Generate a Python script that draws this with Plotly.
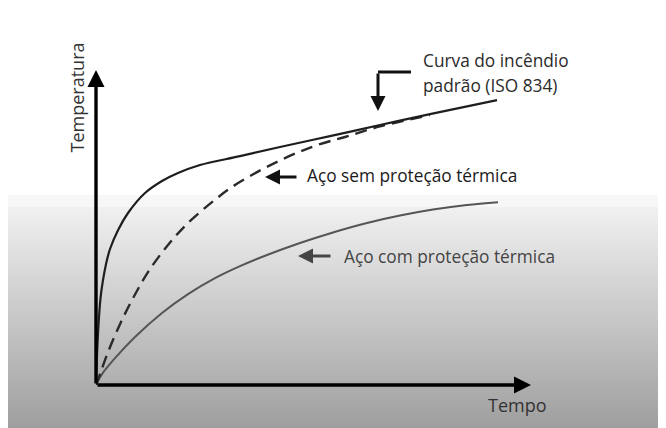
import plotly.graph_objects as go

# schematic values: time (arbitrary units) vs temperature (approx. °C)
tempo_iso = [0, 0.25, 0.625, 1.125, 1.75, 2.5, 3.5, 5.5, 8, 12.25, 16.5, 20.5, 26, 36, 46, 58.5, 71, 83.5, 100.25]
temp_iso = [0, 105, 210, 304, 367, 423, 476, 542, 602, 672, 714, 742, 770, 801, 833, 871, 910, 948, 997]

tempo_sem = [0, 1, 3, 6, 9, 13, 18, 23, 29, 34, 40.25, 46, 51, 56, 62.25, 71, 83.5]
temp_sem = [0, 38, 115, 213, 297, 395, 490, 567, 640, 693, 745, 786, 817, 843, 868, 905, 945]

tempo_com = [0, 1.5, 4.75, 9.75, 16.5, 23, 29.75, 36, 42.75, 51, 59.25, 67.75, 76, 84.25, 92.75, 100.5]
temp_com = [0, 38, 94, 168, 252, 318, 374, 416, 455, 497, 534, 567, 593, 614, 630, 640]

W, H = 666, 428
# the page adds an 8px body margin, so the plot area is pulled up/left by 8px
L, R, T, B = 88, 143, 62, 51
x_max = 108.75
y_max = 1102.5

fig = go.Figure()

fig.add_trace(go.Scatter(x=tempo_com, y=temp_com, mode='lines', line_shape='spline',
                         line=dict(color='#555555', width=2), hoverinfo='skip'))
fig.add_trace(go.Scatter(x=tempo_sem, y=temp_sem, mode='lines', line_shape='spline',
                         line=dict(color='#2a2a2a', width=2.4, dash='12px,7px'), hoverinfo='skip'))
fig.add_trace(go.Scatter(x=tempo_iso, y=temp_iso, mode='lines', line_shape='spline',
                         line=dict(color='#1e1e1e', width=2.2), hoverinfo='skip'))

# grey gradient in the lower half of the page
shapes = []
py = 195
while py < 440:
    if py < 207:
        g = 247
    else:
        g = max(150, int(round(240 - 0.371 * (py - 207))))
    col = f'rgb({g},{g},{g})'
    shapes.append(dict(type='rect', xref='paper', yref='paper', layer='below',
                       x0=-0.3, x1=1.4,
                       y0=(385 - (py + 3)) / 315, y1=(385 - py) / 315,
                       fillcolor=col, line=dict(width=0)))
    py += 3

# elbow of the pointer to the ISO curve
shapes.append(dict(type='line', xref='x', yref='y', x0=78.75, x1=70.5, y0=1095.5, y1=1095.5,
                   line=dict(color='#111111', width=3)))


def seta(x, y, ax, ay, cor='#111111', w=3, size=1):
    return dict(x=x, y=y, ax=ax, ay=ay, xref='x', yref='y', axref='x', ayref='y',
                text='', showarrow=True, arrowhead=2, arrowsize=size, arrowwidth=w,
                arrowcolor=cor, standoff=0, startstandoff=0)


def texto(s, x, y, xanchor='left', cor='#222222', size=17.3, angle=0):
    return dict(text=s, x=x, y=y, xref='paper', yref='paper', xanchor=xanchor,
                yanchor='middle', showarrow=False, textangle=angle,
                font=dict(family='Open Sans', size=size, color=cor))


annotations = [
    # axes
    seta(x_max, 0, 0, 0, cor='#000000', w=3.4, size=1),
    seta(0, y_max, 0, 0, cor='#000000', w=3.4, size=1),
    # pointers
    seta(70.5, 959, 70.5, 1095.5),
    seta(42.25, 728, 50.5, 728),
    seta(50.5, 451.5, 59, 451.5, cor='#444444'),
    # labels
    texto('Curva do incêndio', 0.748, 1.0286, cor='#2a2a2a'),
    texto('padrão (ISO 834)', 0.748, 0.952, cor='#2a2a2a'),
    texto('Aço sem proteção térmica', 0.481, 0.6635, cor='#1a1a1a'),
    texto('Aço com proteção térmica', 0.566, 0.4095, cor='#444444'),
    texto('Tempo', 0.970, -0.0635, xanchor='center', cor='#333333', size=18),
    texto('Temperatura', -0.0414, 0.9127, xanchor='center', cor='#333333', size=18, angle=-90),
]

fig.update_layout(
    width=W, height=H,
    margin=dict(l=L, r=R, t=T, b=B),
    paper_bgcolor='white',
    plot_bgcolor='rgba(0,0,0,0)',
    showlegend=False,
    shapes=shapes,
    annotations=annotations,
    xaxis=dict(range=[0, x_max], visible=False, fixedrange=True),
    yaxis=dict(range=[0, y_max], visible=False, fixedrange=True),
)

fig.write_html("out.html")
